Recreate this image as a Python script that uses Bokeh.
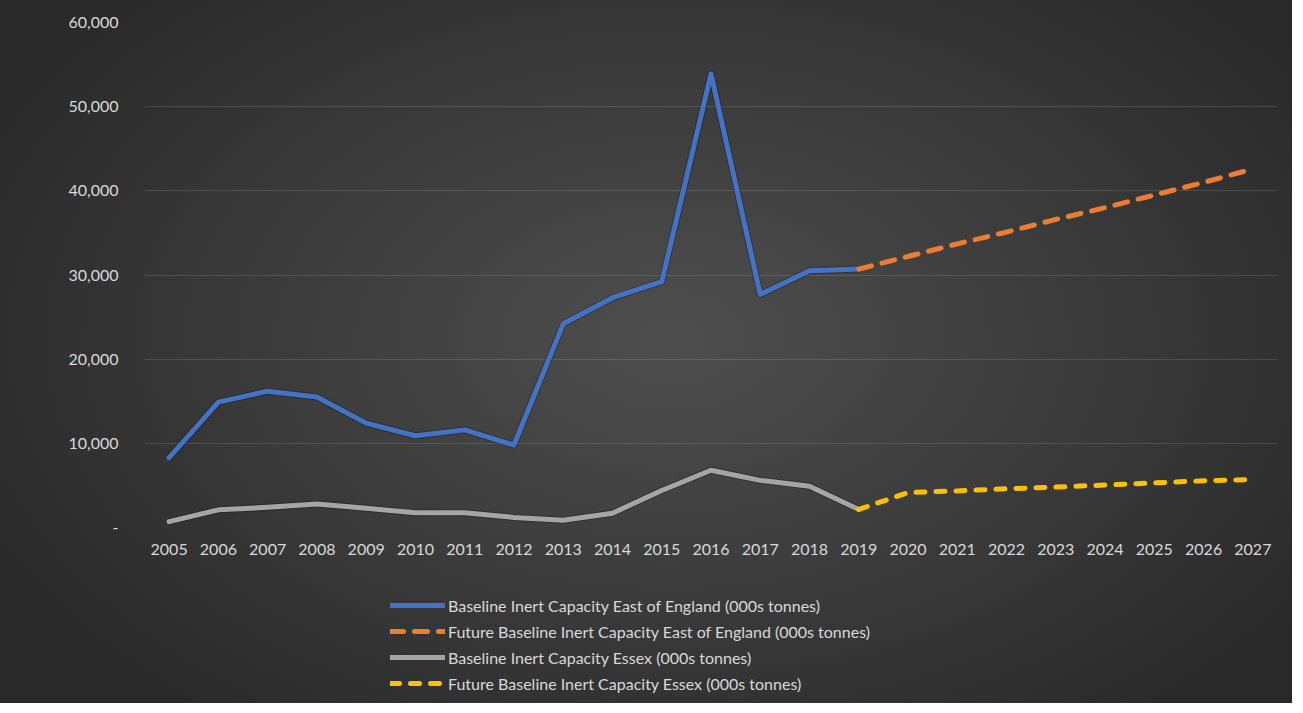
from bokeh.plotting import figure
from bokeh.layouts import column
from bokeh.models import Range1d, FixedTicker, NumeralTickFormatter, Legend, LegendItem
from bokeh.embed import file_html
from bokeh.resources import INLINE

years_hist = [2005, 2006, 2007, 2008, 2009, 2010, 2011, 2012, 2013, 2014, 2015, 2016, 2017, 2018, 2019]
east_hist = [8300, 14900, 16200, 15500, 12400, 10900, 11600, 9800, 24200, 27300, 29200, 53900, 27700, 30500, 30700]
essex_hist = [700, 2100, 2400, 2800, 2300, 1750, 1750, 1200, 850, 1700, 4400, 6800, 5600, 4900, 2150]

years_future = [2019, 2020, 2021, 2022, 2023, 2024, 2025, 2026, 2027]
east_future = [30700, 32200, 33700, 35100, 36600, 38000, 39500, 41000, 42600]
essex_future = [2150, 4150, 4350, 4600, 4800, 5050, 5300, 5550, 5700]

x_ticks = list(range(2005, 2028))
y_ticks = [0, 10000, 20000, 30000, 40000, 50000, 60000]

series_labels = [
    "Baseline Inert Capacity East of England (000s tonnes)",
    "Future Baseline Inert Capacity East of England (000s tonnes)",
    "Baseline Inert Capacity Essex (000s tonnes)",
    "Future Baseline Inert Capacity Essex (000s tonnes)",
]
series_colors = ["#4472C4", "#ED7D31", "#A5A5A5", "#FFC000"]
series_dash = ["solid", "13 11", "solid", "9 11"]

FONT = "Lato"
TXT = "#d9d9d9"

p = figure(
    width=1292, height=560,
    x_range=Range1d(2004.5, 2027.5), y_range=Range1d(0, 60000),
    output_backend="svg", toolbar_location=None,
    min_border_left=144, min_border_right=15, min_border_top=22, min_border_bottom=33,
)
p.border_fill_alpha = 0
p.background_fill_alpha = 0
p.outline_line_alpha = 0

# axes
p.xaxis.ticker = FixedTicker(ticks=x_ticks)
p.yaxis.ticker = FixedTicker(ticks=y_ticks)
p.yaxis.formatter = NumeralTickFormatter(format="0,0")
p.yaxis.major_label_overrides = {0: "-"}
for ax in (p.xaxis[0], p.yaxis[0]):
    ax.axis_line_alpha = 0
    ax.major_tick_line_alpha = 0
    ax.minor_tick_line_alpha = 0
    ax.major_label_text_color = TXT
    ax.major_label_text_font = FONT
    ax.major_label_text_font_size = "16px"
p.xaxis.major_label_standoff = 10
p.yaxis.major_label_standoff = 20
p.xgrid.grid_line_alpha = 0
p.ygrid.grid_line_color = "#ffffff"
p.ygrid.grid_line_alpha = 0.13
p.ygrid.grid_line_width = 1

# subtle shadows
p.line(years_hist, east_hist, line_color="#000000", line_alpha=0.25, line_width=7, line_join="round")
p.line(years_hist, essex_hist, line_color="#000000", line_alpha=0.25, line_width=7, line_join="round")

p.line(years_hist, east_hist, line_color=series_colors[0], line_width=5, line_join="round", line_cap="round")
p.line(years_future, east_future, line_color=series_colors[1], line_width=5, line_dash=series_dash[1],
       line_join="round", line_cap="round")
p.line(years_hist, essex_hist, line_color=series_colors[2], line_width=5, line_join="round", line_cap="round")
p.line(years_future, essex_future, line_color=series_colors[3], line_width=5, line_dash=series_dash[3],
       line_join="round", line_cap="round")

# legend strip (same canvas background via the column container)
pl = figure(
    width=1292, height=143, x_range=Range1d(0, 1), y_range=Range1d(0, 1),
    output_backend="svg", toolbar_location=None, min_border=0,
)
pl.axis.visible = False
pl.grid.visible = False
pl.border_fill_alpha = 0
pl.background_fill_alpha = 0
pl.outline_line_alpha = 0

items = []
for lbl, col, dash in zip(series_labels, series_colors, series_dash):
    # swatch-only renderer, placed outside the visible range
    r = pl.line([-3, -2], [-3, -2], line_color=col, line_width=5, line_dash=dash, line_cap="round")
    items.append(LegendItem(label=lbl, renderers=[r]))

legend = Legend(
    items=items,
    location=(246, 7),
    orientation="vertical",
    padding=0, margin=0, spacing=0,
    glyph_width=55, glyph_height=26, label_height=26,
    label_standoff=3,
    label_text_color=TXT, label_text_font=FONT, label_text_font_size="16px",
    background_fill_alpha=0, border_line_alpha=0,
)
pl.add_layout(legend, "center")

layout = column(p, pl, spacing=0)
layout.styles = {"background": "radial-gradient(ellipse 60% 70% at 52% 48%, #4e4e4e 0%, #3c3c3c 50%, #292929 100%)"}

open("out.html", "w").write(file_html(layout, INLINE))
